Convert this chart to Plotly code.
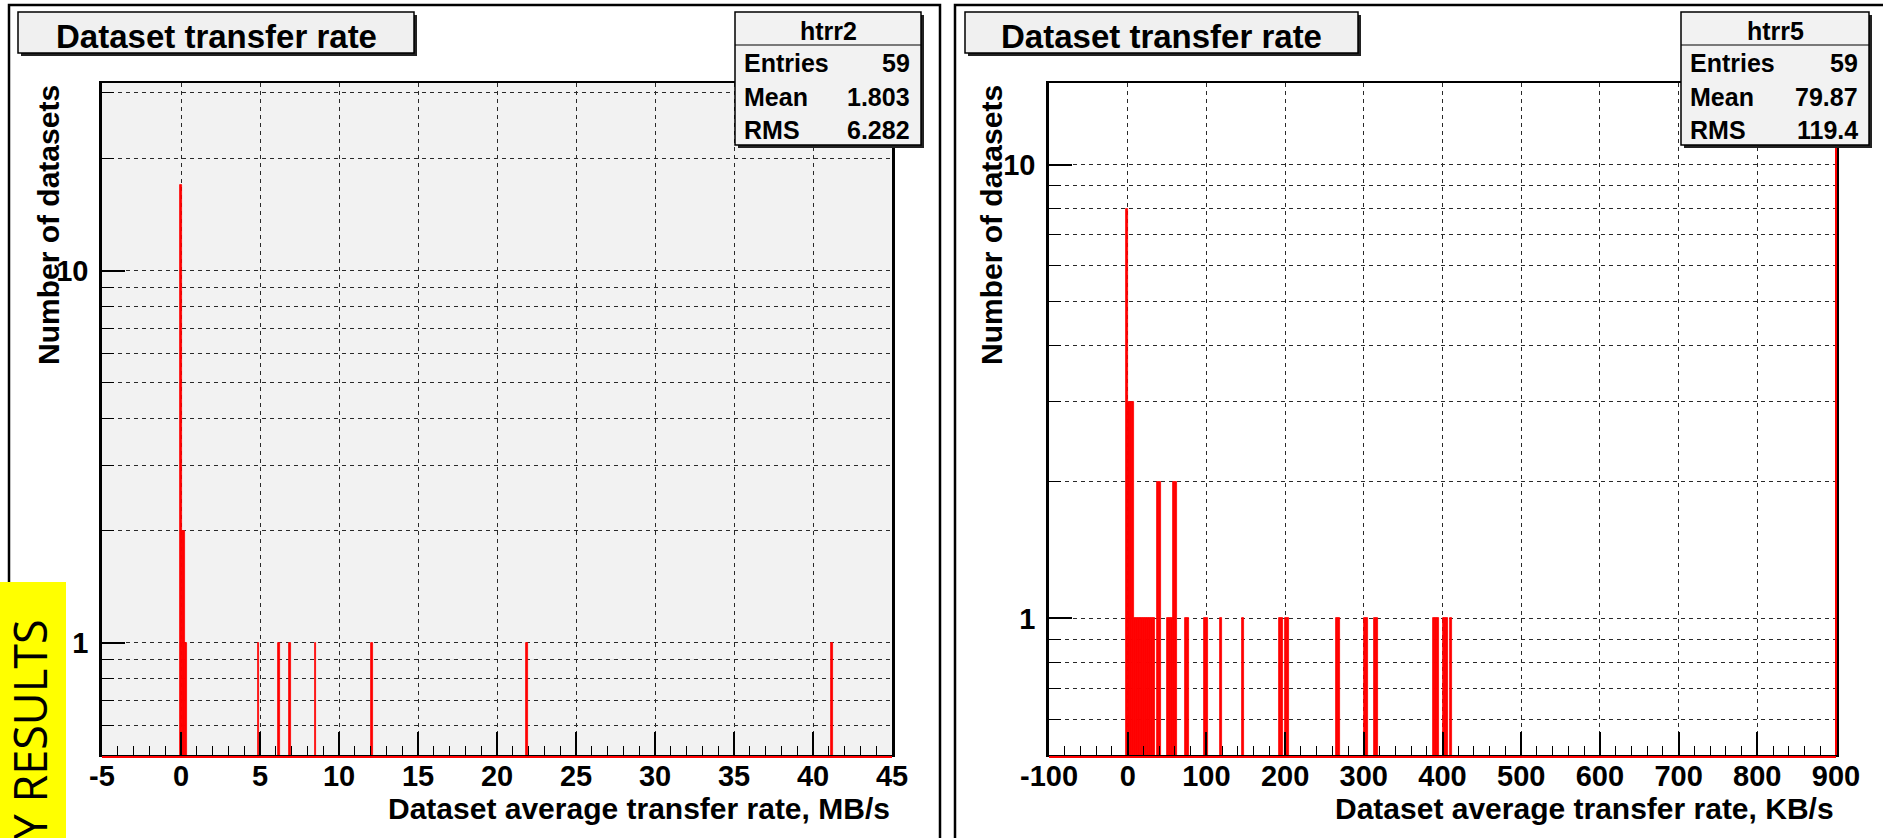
import math
import plotly.graph_objects as go

W, H = 1883, 838

# ---------------- data ----------------
left_bin_width = 0.1
left_x = [0.0, 0.1, 0.2, 0.3, 4.9, 6.2, 6.9, 8.5, 12.1, 21.9, 41.2]
left_counts = [17, 2, 2, 1, 1, 1, 1, 1, 1, 1, 1]

right_bin_width = 2.5
right_x = [-1.25, 1.25, 3.75, 6.25,
           8.75, 11.25, 13.75, 16.25, 18.75, 21.25, 23.75, 26.25, 28.75, 31.25, 33.75,
           38.75, 41.25, 51.25, 53.75, 56.25, 58.75, 61.25, 73.75, 76.25,
           98.75, 101.25, 118.75, 146.25, 193.75, 196.25, 201.25, 203.75,
           266.25, 268.75, 301.25, 303.75, 313.75, 316.25,
           388.75, 391.25, 393.75, 401.25, 403.75, 406.25, 411.25]
right_counts = [8, 3, 3, 3,
                1, 1, 1, 1, 1, 1, 1, 1, 1, 1, 1,
                2, 2, 1, 1, 1, 2, 2, 1, 1,
                1, 1, 1, 1, 1, 1, 1, 1,
                1, 1, 1, 1, 1, 1,
                1, 1, 1, 1, 1, 1, 1]

left_xticks = [-5, 0, 5, 10, 15, 20, 25, 30, 35, 40, 45]
left_xticklabels = ["-5", "0", "5", "10", "15", "20", "25", "30", "35", "40", "45"]
right_xticks = [-100, 0, 100, 200, 300, 400, 500, 600, 700, 800, 900]
right_xticklabels = ["-100", "0", "100", "200", "300", "400", "500", "600", "700", "800", "900"]

y_major = [1, 10]
y_major_labels = ["1", "10"]
left_y_minor = [0.6, 0.7, 0.8, 0.9, 2, 3, 4, 5, 6, 7, 8, 9, 20, 30]
right_y_minor = [0.6, 0.7, 0.8, 0.9, 2, 3, 4, 5, 6, 7, 8, 9]

title_text = "Dataset transfer rate"
y_title = "Number of datasets"
left_x_title = "Dataset average transfer rate, MB/s"
right_x_title = "Dataset average transfer rate, KB/s"

left_stats_name = "htrr2"
left_stats = [("Entries", "59"), ("Mean", "1.803"), ("RMS", "6.282")]
right_stats_name = "htrr5"
right_stats = [("Entries", "59"), ("Mean", "79.87"), ("RMS", "119.4")]

banner_text = "PRELIMINARY RESULTS"

# ---------------- helpers ----------------
def X(p):
    return p / W


def Y(p):
    return 1 - p / H


FONT = "Liberation Sans, Arial, Helvetica, sans-serif"
RED = "#ff0000"
GRID = "#2a2a2a"
DASH = "4px,4px"

fig = go.Figure()

fig.add_trace(go.Bar(x=left_x, y=left_counts, width=[left_bin_width] * len(left_x),
                     marker=dict(color=RED, line=dict(color=RED, width=0.8)),
                     xaxis="x", yaxis="y", hoverinfo="skip"))
fig.add_trace(go.Bar(x=right_x, y=right_counts, width=[right_bin_width] * len(right_x),
                     marker=dict(color=RED, line=dict(color=RED, width=0.8)),
                     xaxis="x2", yaxis="y2", hoverinfo="skip"))

tickfont = dict(family=FONT, size=29, color="black", weight="bold")


def xaxis_cfg(dom, rng, tv, tt, minor_dtick, anchor):
    return dict(domain=dom, range=rng, anchor=anchor, automargin=False,
                tickmode="array", tickvals=tv, ticktext=tt,
                ticks="inside", ticklen=23, tickwidth=1.5, tickcolor="black",
                minor=dict(ticks="inside", ticklen=9, tickwidth=1.2, tickcolor="black",
                           dtick=minor_dtick, tick0=0, showgrid=False),
                showgrid=True, gridcolor=GRID, gridwidth=1.2, griddash=DASH,
                zeroline=False, showline=True, linecolor="black", linewidth=2,
                mirror=True, tickfont=tickfont, ticklabelstandoff=-6)


def yaxis_cfg(dom, rng, minor_vals, anchor):
    return dict(domain=dom, range=rng, type="log", anchor=anchor, automargin=False,
                tickmode="array", tickvals=y_major, ticktext=y_major_labels,
                ticks="inside", ticklen=23, tickwidth=1.5, tickcolor="black",
                minor=dict(ticks="inside", ticklen=12, tickwidth=1.2, tickcolor="black",
                           tickvals=minor_vals, showgrid=True, gridcolor=GRID,
                           gridwidth=1.2, griddash=DASH),
                showgrid=True, gridcolor=GRID, gridwidth=1.2, griddash=DASH,
                zeroline=False, showline=True, linecolor="black", linewidth=2.5,
                mirror=True, tickfont=tickfont, ticklabelstandoff=5)


ydom = [Y(755), Y(83)]
fig.update_layout(
    width=W, height=H, autosize=False,
    margin=dict(l=0, r=0, t=0, b=0, pad=0),
    paper_bgcolor="white", plot_bgcolor="white",
    showlegend=False, bargap=0,
    xaxis=xaxis_cfg([X(102), X(892)], [-5, 45], left_xticks, left_xticklabels, 1, "y"),
    yaxis=yaxis_cfg(ydom, [math.log10(0.5), 1.5037], left_y_minor, "x"),
    xaxis2=xaxis_cfg([X(1049), X(1836)], [-100, 900], right_xticks, right_xticklabels, 20, "y2"),
    yaxis2=yaxis_cfg(ydom, [math.log10(0.5), 1.1798], right_y_minor, "x2"),
)

shapes = []
# left plot-area grey background
shapes.append(dict(type="rect", xref="x domain", yref="y domain", x0=0, x1=1, y0=0, y1=1,
                   fillcolor="#f2f2f2", line=dict(width=0), layer="below"))
# pad borders
shapes.append(dict(type="rect", xref="paper", yref="paper", x0=X(9), x1=X(940), y0=Y(5), y1=Y(860),
                   line=dict(color="black", width=2.5), fillcolor="rgba(0,0,0,0)", layer="above"))
shapes.append(dict(type="rect", xref="paper", yref="paper", x0=X(955), x1=X(1900), y0=Y(5), y1=Y(860),
                   line=dict(color="black", width=2.5), fillcolor="rgba(0,0,0,0)", layer="above"))
# red histogram baseline (empty bins on log scale) and right edge
shapes.append(dict(type="line", xref="paper", yref="paper", x0=X(102), x1=X(892), y0=Y(757), y1=Y(757),
                   line=dict(color=RED, width=2)))
shapes.append(dict(type="line", xref="paper", yref="paper", x0=X(1049), x1=X(1836), y0=Y(757), y1=Y(757),
                   line=dict(color=RED, width=2)))
shapes.append(dict(type="line", xref="paper", yref="paper", x0=X(1836), x1=X(1836), y0=Y(755), y1=Y(83),
                   line=dict(color=RED, width=2)))


def box(x0, y0, x1, y1, fill):
    shapes.append(dict(type="rect", xref="paper", yref="paper", x0=X(x0 + 3), x1=X(x1 + 3),
                       y0=Y(y0 + 3), y1=Y(y1 + 3), fillcolor="#222222", line=dict(width=0)))
    shapes.append(dict(type="rect", xref="paper", yref="paper", x0=X(x0), x1=X(x1),
                       y0=Y(y0), y1=Y(y1), fillcolor=fill, line=dict(color="black", width=1.5)))


annotations = []


def text(x, y, s, size, xanchor="center", yanchor="middle", angle=0, family=FONT, weight="bold"):
    annotations.append(dict(xref="paper", yref="paper", x=X(x), y=Y(y), text=s, showarrow=False,
                            xanchor=xanchor, yanchor=yanchor, textangle=angle,
                            font=dict(family=family, size=size, color="black", weight=weight)))


# titles
for (x0, x1) in [(18, 414), (965, 1358)]:
    box(x0, 12, x1, 53, "#f0f0f0")
    text((x0 + x1) / 2, 36, title_text, 33)

# stats boxes
for (x0, x1, name, rows) in [(735, 921, left_stats_name, left_stats),
                             (1681, 1869, right_stats_name, right_stats)]:
    box(x0, 12, x1, 145, "#f2f2f2")
    shapes.append(dict(type="line", xref="paper", yref="paper", x0=X(x0), x1=X(x1),
                       y0=Y(45), y1=Y(45), line=dict(color="black", width=1.2)))
    text((x0 + x1) / 2, 31, name, 25)
    for i, (lab, val) in enumerate(rows):
        yy = 63 + i * 33.5
        text(x0 + 7, yy, lab, 25, xanchor="left")
        text(x1 - 9, yy, val, 25, xanchor="right")

# axis titles
text(48, 83, y_title, 30, yanchor="top", angle=-90)
text(991, 83, y_title, 30, yanchor="top", angle=-90)
text(892, 808, left_x_title, 30, xanchor="right")
text(1836, 808, right_x_title, 30, xanchor="right")

# yellow banner
shapes.append(dict(type="rect", xref="paper", yref="paper", x0=X(0), x1=X(66), y0=Y(582), y1=Y(900),
                   fillcolor="#ffff00", line=dict(width=0)))
text(29, 618, banner_text, 45, yanchor="top", angle=-90, family="Open Sans, sans-serif", weight="normal")

fig.update_layout(shapes=shapes, annotations=annotations)
fig.write_html("out.html", config={"displayModeBar": False},
               post_script="document.body.style.margin='0px';document.body.style.overflow='hidden';")
